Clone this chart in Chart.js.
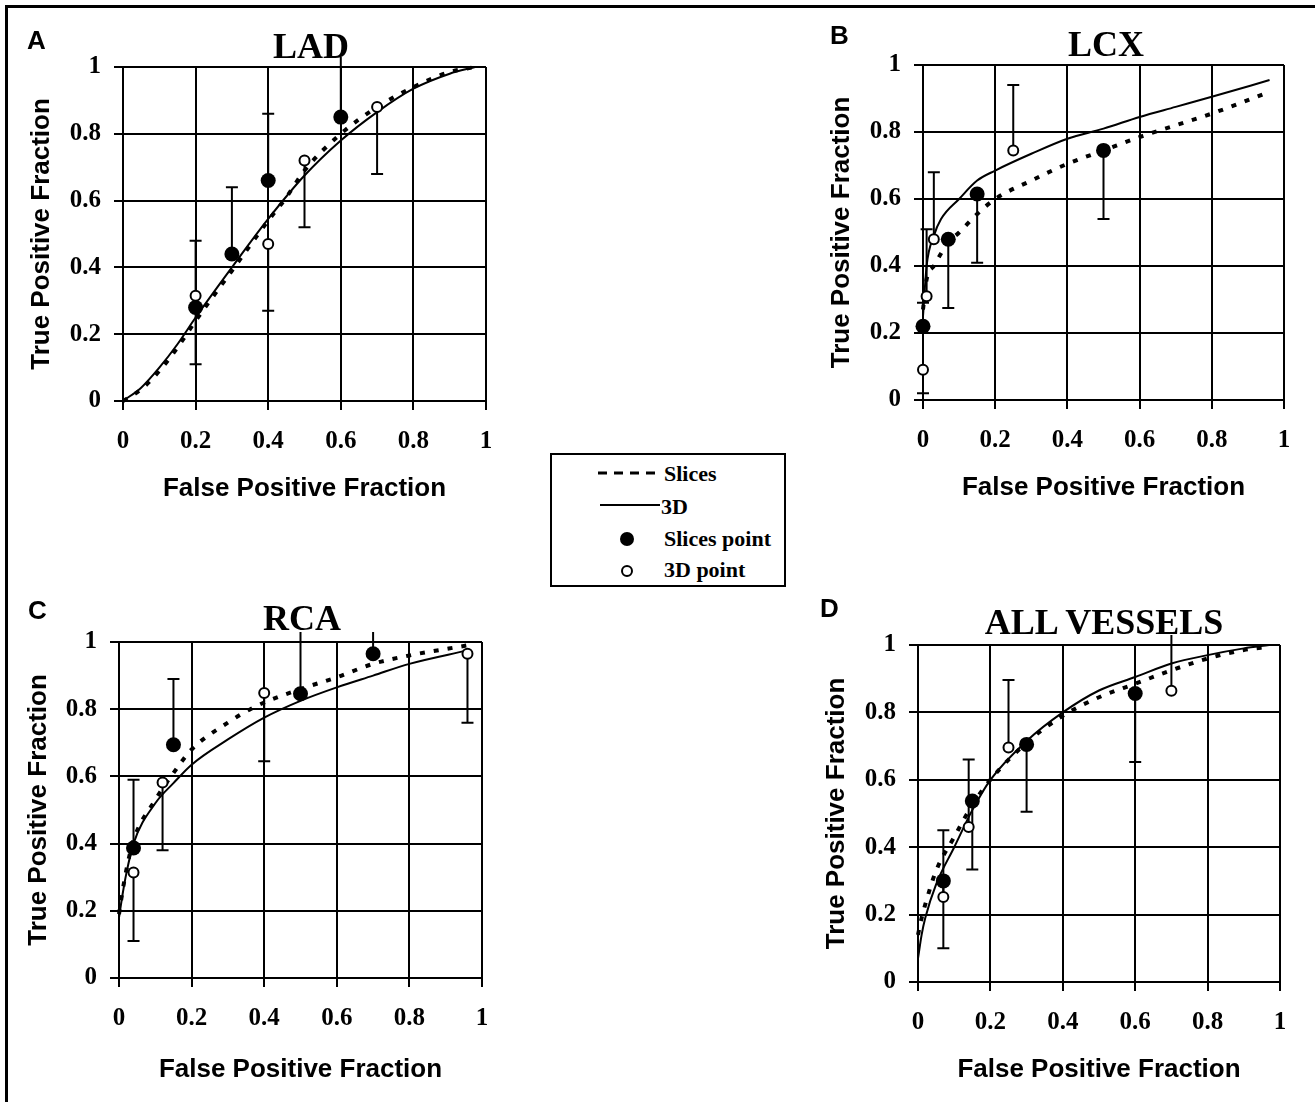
<!DOCTYPE html>
<html>
<head>
<meta charset="utf-8">
<title>ROC curves by vessel</title>
<script src="https://cdn.jsdelivr.net/npm/chart.js@4.4.1/dist/chart.umd.min.js"></script>
<style>
    html, body { margin: 0; padding: 0; background: #fff; }
    #page { position: relative; width: 1315px; height: 1102px; overflow: hidden; background: #fff; }
    #frame { position: absolute; left: 5px; top: 5px; right: -5px; bottom: -5px; border-top: 3px solid #000; border-left: 3px solid #000; }
    canvas { position: absolute; }
    .letter { position: absolute; font: bold 26px "Liberation Sans", Arial, sans-serif; line-height: 26px; color: #000; }
    .title { position: absolute; width: 400px; text-align: center; font: bold 36px "Liberation Serif", "Times New Roman", serif; line-height: 36px; color: #000; }
    #legend { position: absolute; left: 550px; top: 453px; }
    #legend text { font: bold 22px "Liberation Serif", "Times New Roman", serif; fill: #000; }
</style>
</head>
<body>
<div id="page">
    <div id="frame"></div>
    <svg id="legend" width="237" height="135" viewBox="0 0 237 135">
        <rect x="1" y="1" width="234" height="132" fill="#fff" stroke="#000" stroke-width="2"/>
        <line x1="48" y1="20" x2="106" y2="20" stroke="#000" stroke-width="3" stroke-dasharray="9 7"/>
        <text x="114" y="28">Slices</text>
        <line x1="50" y1="52" x2="110" y2="52" stroke="#000" stroke-width="2"/>
        <text x="111" y="61">3D</text>
        <circle cx="77" cy="86" r="7" fill="#000"/>
        <text x="114" y="93">Slices point</text>
        <circle cx="77" cy="118" r="5" fill="#fff" stroke="#000" stroke-width="2"/>
        <text x="114" y="124">3D point</text>
    </svg>
</div>
<script>
// LAD
const ladSlicesFpf = [0, 0.05, 0.1, 0.15, 0.2, 0.3, 0.4, 0.45, 0.5, 0.6, 0.7, 0.8, 0.9, 0.97];
const ladSlicesTpf = [0, 0.035, 0.09, 0.16, 0.24, 0.39, 0.54, 0.61, 0.69, 0.8, 0.88, 0.94, 0.985, 1.0];
const lad3dFpf = [0, 0.05, 0.1, 0.15, 0.2, 0.3, 0.4, 0.5, 0.6, 0.7, 0.8, 0.9, 0.97];
const lad3dTpf = [0, 0.04, 0.1, 0.17, 0.25, 0.4, 0.545, 0.675, 0.78, 0.865, 0.935, 0.98, 1.0];
const ladSlicesPtX = [0.2, 0.3, 0.4, 0.6];
const ladSlicesPtY = [0.28, 0.44, 0.66, 0.85];
const ladSlicesErr = [0.48, 0.64, 0.86, 1.05];
const lad3dPtX = [0.2, 0.4, 0.5, 0.7];
const lad3dPtY = [0.315, 0.47, 0.72, 0.88];
const lad3dErr = [0.11, 0.27, 0.52, 0.68];

// LCX
const lcxSlicesFpf = [0, 0.01, 0.03, 0.07, 0.1, 0.15, 0.2, 0.3, 0.4, 0.5, 0.6, 0.7, 0.8, 0.96];
const lcxSlicesTpf = [0.27, 0.36, 0.4, 0.47, 0.5, 0.555, 0.6, 0.655, 0.705, 0.745, 0.785, 0.82, 0.855, 0.92];
const lcx3dFpf = [0, 0.01, 0.03, 0.05, 0.1, 0.15, 0.2, 0.3, 0.4, 0.5, 0.6, 0.7, 0.8, 0.96];
const lcx3dTpf = [0.25, 0.4, 0.49, 0.54, 0.6, 0.655, 0.685, 0.735, 0.78, 0.81, 0.845, 0.875, 0.905, 0.955];
const lcxSlicesPtX = [0, 0.07, 0.15, 0.5];
const lcxSlicesPtY = [0.22, 0.48, 0.615, 0.745];
const lcxSlicesErr = [0.02, 0.275, 0.41, 0.54];
const lcx3dPtX = [0, 0.01, 0.03, 0.25];
const lcx3dPtY = [0.09, 0.31, 0.48, 0.745];
const lcx3dErr = [0.29, 0.51, 0.68, 0.94];

// RCA
const rcaSlicesFpf = [0, 0.01, 0.02, 0.04, 0.1, 0.15, 0.2, 0.3, 0.38, 0.5, 0.6, 0.7, 0.8, 0.96];
const rcaSlicesTpf = [0.19, 0.26, 0.32, 0.41, 0.53, 0.61, 0.68, 0.76, 0.81, 0.86, 0.895, 0.935, 0.96, 0.99];
const rca3dFpf = [0, 0.01, 0.02, 0.04, 0.1, 0.15, 0.2, 0.3, 0.4, 0.5, 0.6, 0.7, 0.8, 0.96];
const rca3dTpf = [0.18, 0.25, 0.31, 0.4, 0.52, 0.58, 0.635, 0.71, 0.775, 0.825, 0.865, 0.9, 0.935, 0.975];
const rcaSlicesPtX = [0.04, 0.15, 0.5, 0.7];
const rcaSlicesPtY = [0.387, 0.694, 0.846, 0.965];
const rcaSlicesErr = [0.59, 0.89, 1.05, 1.17];
const rca3dPtX = [0.04, 0.12, 0.4, 0.96];
const rca3dPtY = [0.314, 0.582, 0.848, 0.965];
const rca3dErr = [0.11, 0.38, 0.645, 0.76];

// All vessels
const allSlicesFpf = [0, 0.01, 0.02, 0.05, 0.1, 0.15, 0.2, 0.3, 0.4, 0.5, 0.6, 0.7, 0.8, 0.9, 0.97];
const allSlicesTpf = [0.14, 0.19, 0.23, 0.33, 0.43, 0.525, 0.6, 0.71, 0.79, 0.845, 0.885, 0.925, 0.96, 0.985, 0.995];
const all3dFpf = [0, 0.01, 0.02, 0.05, 0.1, 0.15, 0.2, 0.3, 0.4, 0.5, 0.6, 0.7, 0.8, 0.9, 0.97];
const all3dTpf = [0.07, 0.14, 0.19, 0.29, 0.4, 0.51, 0.6, 0.715, 0.8, 0.865, 0.905, 0.945, 0.97, 0.99, 1.0];
const allSlicesPtX = [0.07, 0.15, 0.3, 0.6];
const allSlicesPtY = [0.3, 0.537, 0.705, 0.856];
const allSlicesErr = [0.1, 0.334, 0.505, 0.653];
const all3dPtX = [0.07, 0.14, 0.25, 0.7];
const all3dPtY = [0.252, 0.46, 0.696, 0.864];
const all3dErr = [0.45, 0.66, 0.896, 1.06];

const axisTicks = [0, 0.2, 0.4, 0.6, 0.8, 1];

const panels = [
    { letter: "A", title: "LAD", slices: [ladSlicesFpf, ladSlicesTpf], threeD: [lad3dFpf, lad3dTpf],
      slicesPts: [ladSlicesPtX, ladSlicesPtY, ladSlicesErr], threeDPts: [lad3dPtX, lad3dPtY, lad3dErr],
      box: { l: 123, r: 486, t: 67, b: 401, yTitle: 42, xTitle: 489, cx: 311, cy: 46, lx: 27, ly: 27 } },
    { letter: "B", title: "LCX", slices: [lcxSlicesFpf, lcxSlicesTpf], threeD: [lcx3dFpf, lcx3dTpf],
      slicesPts: [lcxSlicesPtX, lcxSlicesPtY, lcxSlicesErr], threeDPts: [lcx3dPtX, lcx3dPtY, lcx3dErr],
      box: { l: 923, r: 1284, t: 65, b: 400, yTitle: 842, xTitle: 488, cx: 1106, cy: 44, lx: 830, ly: 22 } },
    { letter: "C", title: "RCA", slices: [rcaSlicesFpf, rcaSlicesTpf], threeD: [rca3dFpf, rca3dTpf],
      slicesPts: [rcaSlicesPtX, rcaSlicesPtY, rcaSlicesErr], threeDPts: [rca3dPtX, rca3dPtY, rca3dErr],
      box: { l: 119, r: 482, t: 642, b: 978, yTitle: 39, xTitle: 1070, cx: 302, cy: 618, lx: 28, ly: 597 } },
    { letter: "D", title: "ALL VESSELS", slices: [allSlicesFpf, allSlicesTpf], threeD: [all3dFpf, all3dTpf],
      slicesPts: [allSlicesPtX, allSlicesPtY, allSlicesErr], threeDPts: [all3dPtX, all3dPtY, all3dErr],
      box: { l: 918, r: 1280, t: 645, b: 982, yTitle: 837, xTitle: 1070, cx: 1104, cy: 622, lx: 820, ly: 595 } }
];

const toPoints = (xs, ys) => xs.map((x, i) => ({ x, y: ys[i] }));

const errorBars = {
    id: "errorBars",
    beforeDatasetsDraw(chart) {
        const { ctx, chartArea, scales: { x, y } } = chart;
        const limit = chartArea.top - 10;
        ctx.save();
        ctx.strokeStyle = "#000";
        ctx.lineWidth = 2;
        chart.data.datasets.forEach(ds => {
            if (!ds.errorEnds) return;
            ds.data.forEach((pt, i) => {
                const px = x.getPixelForValue(pt.x);
                const py = y.getPixelForValue(pt.y);
                let ey = y.getPixelForValue(ds.errorEnds[i]);
                const clipped = ey < limit;
                if (clipped) ey = limit;
                ctx.beginPath();
                ctx.moveTo(px, py);
                ctx.lineTo(px, ey);
                if (!clipped) {
                    ctx.moveTo(px - 6, ey);
                    ctx.lineTo(px + 6, ey);
                }
                ctx.stroke();
            });
        });
        ctx.restore();
    }
};

function axis(text, horizontal, size) {
    return {
        type: "linear",
        min: 0,
        max: 1,
        afterBuildTicks: scale => { scale.ticks = axisTicks.map(value => ({ value })); },
        ticks: {
            color: "#000",
            padding: horizontal ? 17 : 13,
            maxRotation: 0,
            autoSkip: false,
            font: { family: "'Liberation Serif', 'Times New Roman', serif", weight: "bold", size: 25 },
            callback: v => String(Math.round(v * 10) / 10)
        },
        grid: { color: "#000", lineWidth: 2, tickLength: 9, tickColor: "#000", tickWidth: 2 },
        border: { color: "#000", width: 2 },
        title: {
            display: true,
            text,
            color: "#000",
            font: { family: "'Liberation Sans', Arial, sans-serif", weight: "bold", size: 26 },
            padding: horizontal ? { top: 0, bottom: 9.4 } : { top: 9.4, bottom: 0 }
        },
        afterFit: scale => {
            if (horizontal) scale.height = size;
            else scale.width = size;
        }
    };
}

const page = document.getElementById("page");

panels.forEach(panel => {
    const b = panel.box;
    const left = b.yTitle - 25, top = b.t - 50, right = b.r + 30, bottom = b.xTitle + 25;

    const canvas = document.createElement("canvas");
    canvas.width = right - left;
    canvas.height = bottom - top;
    canvas.style.left = left + "px";
    canvas.style.top = top + "px";
    canvas.style.width = canvas.width + "px";
    canvas.style.height = canvas.height + "px";
    page.appendChild(canvas);

    const letter = document.createElement("div");
    letter.className = "letter";
    letter.textContent = panel.letter;
    letter.style.left = b.lx + "px";
    letter.style.top = b.ly + "px";
    page.appendChild(letter);

    const title = document.createElement("div");
    title.className = "title";
    title.textContent = panel.title;
    title.style.left = (b.cx - 200) + "px";
    title.style.top = (b.cy - 18) + "px";
    page.appendChild(title);

    new Chart(canvas, {
        type: "scatter",
        data: {
            datasets: [
                {
                    label: "Slices point",
                    data: toPoints(panel.slicesPts[0], panel.slicesPts[1]),
                    errorEnds: panel.slicesPts[2],
                    pointRadius: 7.5,
                    pointBackgroundColor: "#000",
                    pointBorderColor: "#000",
                    pointBorderWidth: 0,
                    showLine: false,
                    clip: false,
                    order: 0
                },
                {
                    label: "3D point",
                    data: toPoints(panel.threeDPts[0], panel.threeDPts[1]),
                    errorEnds: panel.threeDPts[2],
                    pointRadius: 5,
                    pointBackgroundColor: "#fff",
                    pointBorderColor: "#000",
                    pointBorderWidth: 2,
                    showLine: false,
                    clip: false,
                    order: 0
                },
                {
                    label: "Slices",
                    data: toPoints(panel.slices[0], panel.slices[1]),
                    showLine: true,
                    borderColor: "#000",
                    borderWidth: 4,
                    borderDash: [5, 9],
                    cubicInterpolationMode: "monotone",
                    pointRadius: 0,
                    clip: false,
                    order: 1
                },
                {
                    label: "3D",
                    data: toPoints(panel.threeD[0], panel.threeD[1]),
                    showLine: true,
                    borderColor: "#000",
                    borderWidth: 2,
                    cubicInterpolationMode: "monotone",
                    pointRadius: 0,
                    clip: false,
                    order: 1
                }
            ]
        },
        options: {
            responsive: false,
            animation: false,
            devicePixelRatio: 1,
            events: [],
            layout: { padding: { left: 0, top: 50, right: 30, bottom: 0 } },
            plugins: { legend: { display: false }, tooltip: { enabled: false } },
            scales: {
                x: axis("False Positive Fraction", true, bottom - b.b),
                y: axis("True Positive Fraction", false, b.l - left)
            }
        },
        plugins: [errorBars]
    });
});
</script>
</body>
</html>
